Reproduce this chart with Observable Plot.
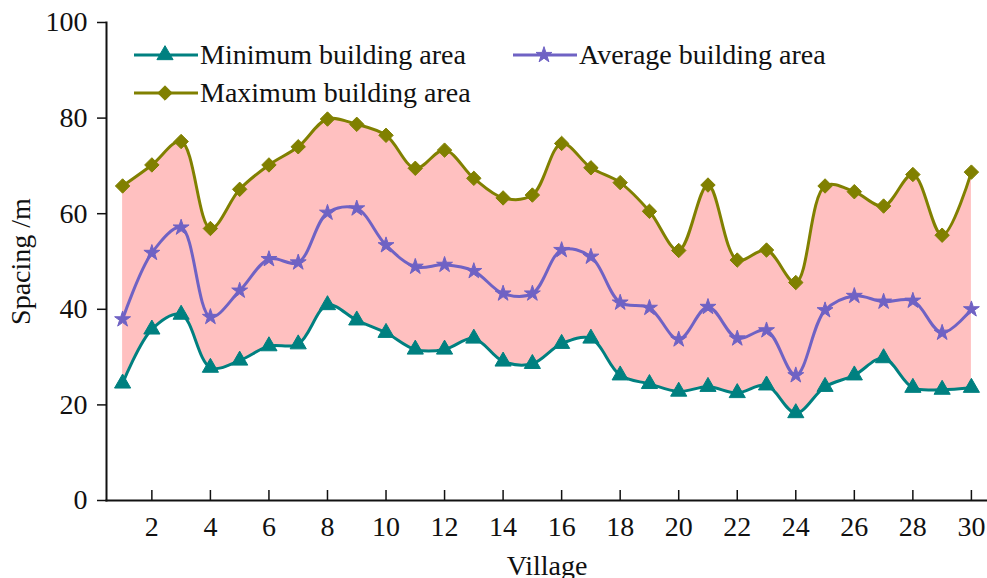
<!DOCTYPE html>
<html>
<head>
<meta charset="utf-8">
<script src="https://cdn.jsdelivr.net/npm/d3@7"></script>
<script src="https://cdn.jsdelivr.net/npm/@observablehq/plot@0.6"></script>
<style>
  html, body { margin: 0; padding: 0; background: #fff; }
  #wrap { position: relative; width: 987px; height: 578px; overflow: hidden; font-family: "Liberation Serif", "Times New Roman", serif; }
  .leg { position: absolute; display: flex; align-items: center; font-size: 28px; color: #111; white-space: nowrap; line-height: 1; }
  .leg svg { display: block; margin-right: 2px; }
</style>
</head>
<body>
<div id="wrap"></div>
<script>
const villages = [1,2,3,4,5,6,7,8,9,10,11,12,13,14,15,16,17,18,19,20,21,22,23,24,25,26,27,28,29,30];
const minArea = [24.5,35.8,38.9,27.8,29.3,32.3,32.7,40.9,37.7,35.1,31.6,31.6,33.9,29.1,28.6,32.8,33.9,26.2,24.4,22.8,23.8,22.5,24.1,18.3,23.8,26.2,29.8,23.6,23.2,23.6];
const avgArea = [37.9,51.8,57.1,38.4,43.9,50.5,49.8,60.2,61.1,53.4,48.9,49.3,48.0,43.3,43.3,52.4,51.0,41.4,40.3,33.7,40.5,33.9,35.6,26.2,39.8,42.8,41.6,41.8,35.1,40.0];
const maxArea = [65.8,70.2,75.1,56.9,65.1,70.2,74.0,79.8,78.7,76.4,69.5,73.3,67.4,63.3,63.9,74.7,69.6,66.5,60.5,52.3,66.0,50.3,52.4,45.6,65.8,64.6,61.6,68.2,55.5,68.7];
const xTicks = [2,4,6,8,10,12,14,16,18,20,22,24,26,28,30];
const yTicks = [0,20,40,60,80,100];
const seriesNames = ["Minimum building area", "Average building area", "Maximum building area"];

const colors = { min: "#008080", avg: "#6F62C4", max: "#808000", fill: "#FFC0C0" };

const data = villages.map((v, i) => ({ v, min: minArea[i], avg: avgArea[i], max: maxArea[i] }));
const curve = "catmull-rom";
const font = "Liberation Serif, Times New Roman, serif";

const chart = Plot.plot({
  width: 987,
  height: 578,
  marginLeft: 106,
  marginRight: 0,
  marginTop: 22,
  marginBottom: 78,
  style: { fontFamily: font, background: "#fff", color: "#111" },
  x: { domain: [0.45, 30.55] },
  y: { domain: [0, 100] },
  marks: [
    Plot.areaY(data, { x: "v", y1: "min", y2: "max", curve, fill: colors.fill }),
    Plot.line(data, { x: "v", y: "min", curve, stroke: colors.min, strokeWidth: 3 }),
    Plot.line(data, { x: "v", y: "avg", curve, stroke: colors.avg, strokeWidth: 3 }),
    Plot.line(data, { x: "v", y: "max", curve, stroke: colors.max, strokeWidth: 3 }),
    Plot.dot(data, { x: "v", y: "min", symbol: "triangle", r: 6, fill: colors.min, stroke: colors.min, strokeWidth: 1 }),
    Plot.dot(data, { x: "v", y: "avg", symbol: "star", r: 5, fill: colors.avg, stroke: colors.avg, strokeWidth: 1 }),
    Plot.dot(data, { x: "v", y: "max", symbol: "diamond2", r: 6.5, fill: colors.max, stroke: colors.max, strokeWidth: 1 }),
    Plot.frame({ anchor: "left", strokeWidth: 2, stroke: "#111" }),
    Plot.frame({ anchor: "bottom", strokeWidth: 2, stroke: "#111" }),
    Plot.tickX(xTicks, { x: d => d, insetTop: 468, stroke: "#111", strokeWidth: 1.5 }),
    Plot.axisY({ ticks: yTicks, tickSize: 9, tickPadding: 10, fontSize: 28, strokeWidth: 1.5,
                 label: "Spacing /m", labelAnchor: "center", labelArrow: "none", labelOffset: 96 }),
    Plot.axisX({ ticks: xTicks, tickSize: 0, tickPadding: 16, fontSize: 28,
                 label: "Village", labelAnchor: "center", labelArrow: "none", labelOffset: 74 })
  ]
});

const wrap = document.getElementById("wrap");
wrap.appendChild(chart);

function legendItem(name, color, symbolType, size, left, top) {
  const div = document.createElement("div");
  div.className = "leg";
  div.style.left = left + "px";
  div.style.top = top + "px";
  const ns = "http://www.w3.org/2000/svg";
  const svg = document.createElementNS(ns, "svg");
  svg.setAttribute("width", 64);
  svg.setAttribute("height", 20);
  const line = document.createElementNS(ns, "line");
  line.setAttribute("x1", 0); line.setAttribute("x2", 64);
  line.setAttribute("y1", 10); line.setAttribute("y2", 10);
  line.setAttribute("stroke", color); line.setAttribute("stroke-width", 3);
  svg.appendChild(line);
  const path = document.createElementNS(ns, "path");
  path.setAttribute("d", d3.symbol(symbolType, size)());
  path.setAttribute("transform", "translate(31,10)");
  path.setAttribute("fill", color); path.setAttribute("stroke", color);
  svg.appendChild(path);
  div.appendChild(svg);
  const span = document.createElement("span");
  span.textContent = name;
  div.appendChild(span);
  wrap.appendChild(div);
}
legendItem(seriesNames[0], colors.min, d3.symbolTriangle, Math.PI * 6 * 6, 134, 41);
legendItem(seriesNames[1], colors.avg, d3.symbolStar, Math.PI * 5 * 5, 513, 41);
legendItem(seriesNames[2], colors.max, d3.symbolDiamond2, Math.PI * 6.5 * 6.5, 134, 79);
</script>
</body>
</html>
